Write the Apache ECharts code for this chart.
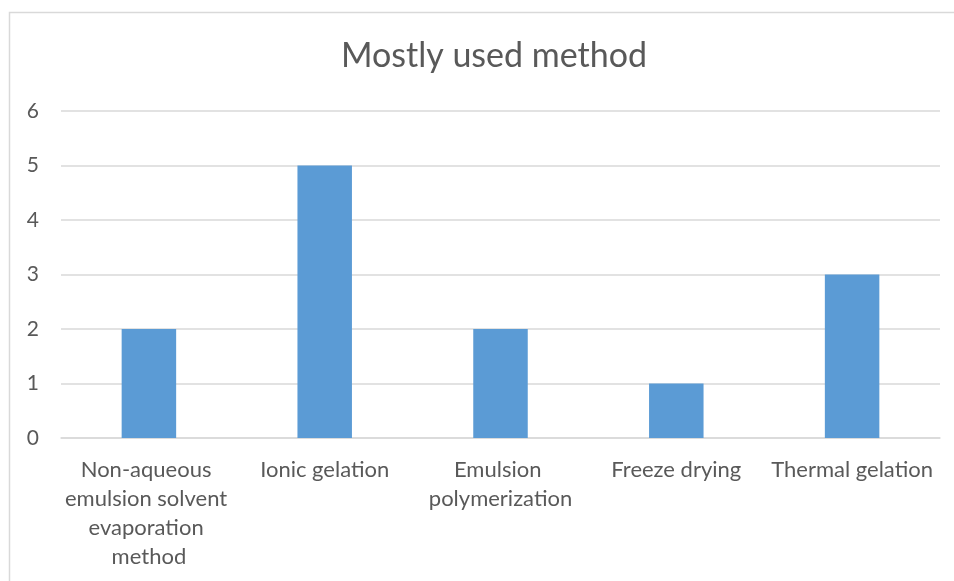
<!DOCTYPE html>
<html>
<head>
<meta charset="utf-8">
<script src="https://cdn.jsdelivr.net/npm/echarts@6/dist/echarts.min.js"></script>
<style>
  html, body { margin: 0; padding: 0; background: #fff; }
  #chart { width: 954px; height: 581px; }
</style>
</head>
<body>
<div id="chart"></div>
<script>
const categories = [
    'Non-aqueous emulsion solvent evaporation method',
    'Ionic gelation',
    'Emulsion polymerization',
    'Freeze drying',
    'Thermal gelation'
];
const counts = [2, 5, 2, 1, 3];
const yTicks = [0, 1, 2, 3, 4, 5, 6];

const textColor = '#595959';
const chart = echarts.init(document.getElementById('chart'));

chart.setOption({
    animation: false,
    backgroundColor: '#fff',
    textStyle: {fontFamily: 'Lato, sans-serif'},
    title: {
        text: 'Mostly used method',
        left: 489,
        top: 34,
        textAlign: 'center',
        textStyle: {color: textColor, fontSize: 34, fontWeight: 'normal', fontFamily: 'Lato, sans-serif'}
    },
    // chart frame
    graphic: [{
        type: 'rect',
        shape: {x: 9.5, y: 12.5, width: 1000, height: 700},
        style: {fill: null, stroke: '#d9d9d9', lineWidth: 1.5},
        silent: true
    }],
    grid: {left: 61, right: 14, top: 111, bottom: 143},
    xAxis: {
        type: 'category',
        data: categories,
        axisLine: {lineStyle: {color: '#d9d9d9', width: 1.5}},
        axisTick: {show: false},
        axisLabel: {
            color: textColor,
            fontSize: 22,
            interval: 0,
            margin: 17,
            width: 174,
            overflow: 'break',
            lineHeight: 29
        }
    },
    yAxis: {
        type: 'value',
        min: yTicks[0],
        max: yTicks[yTicks.length - 1],
        interval: 1,
        axisLine: {show: false},
        axisTick: {show: false},
        axisLabel: {color: textColor, fontSize: 21, margin: 22},
        splitLine: {lineStyle: {color: '#d9d9d9', width: 1.5}}
    },
    series: [{
        type: 'bar',
        data: counts,
        barWidth: '31%',
        itemStyle: {color: '#5b9bd5'}
    }]
});
</script>
</body>
</html>
